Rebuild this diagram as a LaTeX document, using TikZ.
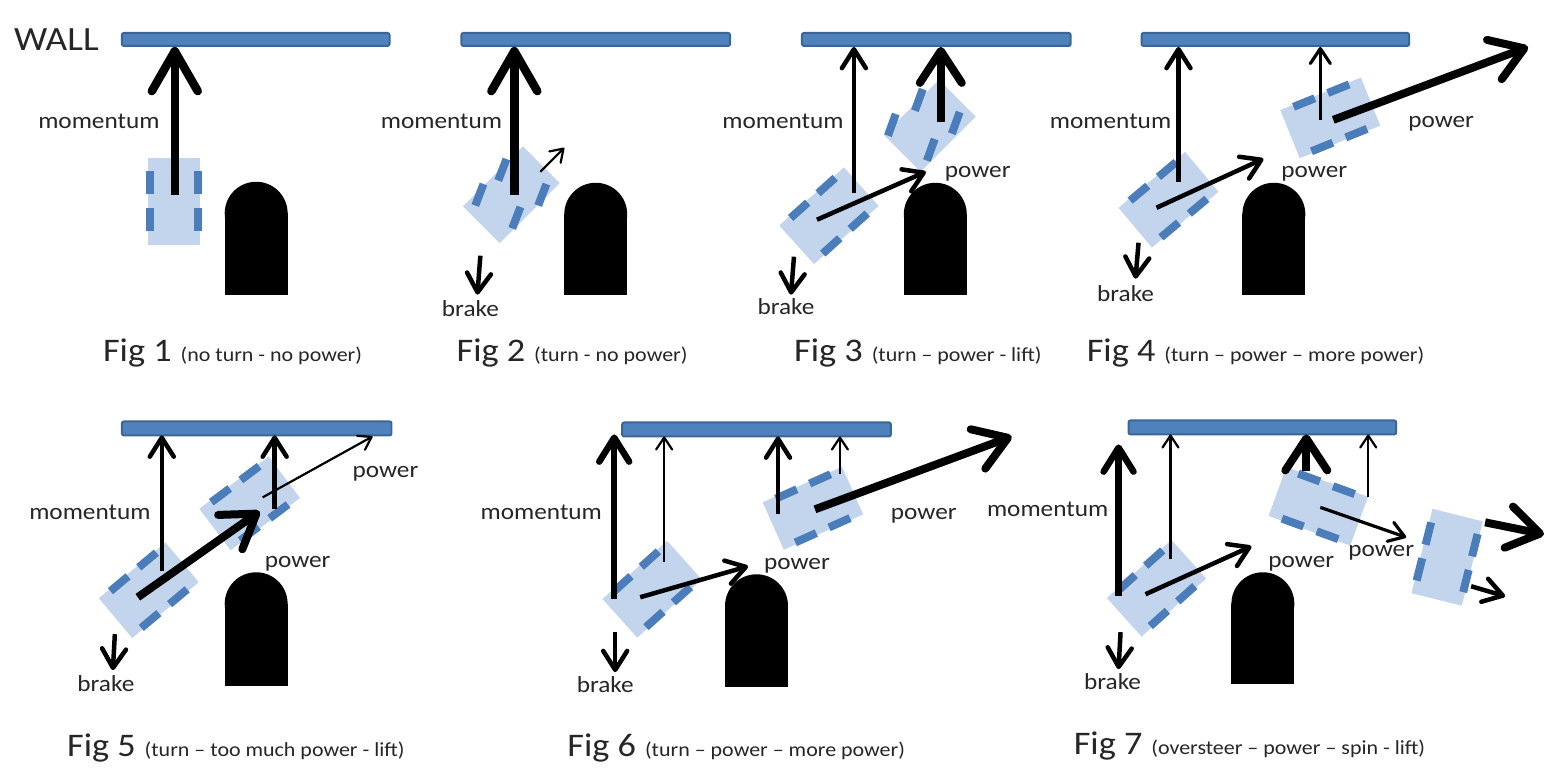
\documentclass[tikz,border=0pt]{standalone}
\usepackage{fontspec}
\setmainfont{Carlito}[FakeStretch=1.1]
\usetikzlibrary{arrows.meta}

\definecolor{wallblue}{HTML}{4F81BD}
\definecolor{walledge}{HTML}{3B6597}
\definecolor{bodyblue}{HTML}{C3D5EC}
\definecolor{wheelblue}{HTML}{4A7DBA}
\definecolor{ink}{HTML}{262626}

\tikzset{
  lbl/.style={font=\fontsize{23}{26}\selectfont, text=ink, inner sep=0pt, anchor=base},
  figcap/.style={font=\fontsize{33}{36}\selectfont, text=ink, inner sep=0pt, anchor=base west},
  walltxt/.style={font=\fontsize{34}{38}\selectfont, text=ink, inner sep=0pt, anchor=base west},
  wallbar/.style={fill=wallblue, draw=walledge, line width=2pt, rounded corners=2pt},
  heavier/.style={line width=8.5pt, -{Straight Barb[length=40pt,width=46pt,round]}},
  heavy/.style={line width=8pt, -{Straight Barb[length=32pt,width=42pt,round]}},
  bold/.style={line width=6.5pt, -{Straight Barb[length=24pt,width=30pt,round]}},
  mid/.style={line width=4.5pt, -{Straight Barb[length=19pt,width=24pt,round]}},
  light/.style={line width=3.2pt, -{Straight Barb[length=15pt,width=20pt,round]}},
  hair/.style={line width=2.2pt, -{Straight Barb[length=12pt,width=16pt,round]}},
}

% car body: centre x, centre y, angle, half length, half width
\newcommand\drawbody[5]{%
  \begin{scope}[shift={(#1,#2)},rotate=#3]
    \fill[bodyblue] (-#4,-#5) rectangle (#4,#5);
  \end{scope}}
% single wheel: centre x, centre y, angle
\newcommand\drawwheel[3]{%
  \begin{scope}[shift={(#1,#2)},rotate=#3]
    \fill[wheelblue] (-11.5,-4) rectangle (11.5,4);
  \end{scope}}
% whole car: centre x, centre y, heading angle
\newcommand\drawcar[3]{%
  \begin{scope}[shift={(#1,#2)},rotate=#3]
    \fill[bodyblue] (-43.5,-26) rectangle (43.5,26);
    \foreach \u in {-18.5,18.5}{\foreach \v in {-24,24}{
      \fill[wheelblue] (\u-11.5,\v-4) rectangle (\u+11.5,\v+4);}}
  \end{scope}}
% obstacle: left x, top y, bottom y
\newcommand\drawpost[3]{%
  \fill[black] (#1+31.5,#2+31.5) circle[radius=31.5];
  \fill[black] (#1,#2+31.5) rectangle (#1+63,#3);}

\begin{document}
\begin{tikzpicture}[x=1pt,y=-1pt]
\fill[white] (0,0) rectangle (1548,780);

% ---------- walls ----------
\draw[wallbar] (122,33) rectangle (390,46);
\draw[wallbar] (462,33) rectangle (731,46);
\draw[wallbar] (803,33) rectangle (1072,46);
\draw[wallbar] (1143,33) rectangle (1411,46);
\draw[wallbar] (122,422) rectangle (392,436);
\draw[wallbar] (623,423) rectangle (892,437);
\draw[wallbar] (1130,421) rectangle (1398,435);
\node[walltxt] (wall) at (14,51) {WALL};

% ---------- posts ----------
\drawpost{225}{182}{295}
\drawpost{565}{183}{295}
\drawpost{905}{183}{295}
\drawpost{1244}{183}{295}
\drawpost{225}{573}{687}
\drawpost{726}{575}{688}
\drawpost{1233}{573}{685}

% ---------- cars ----------
\drawcar{174}{201.5}{90}
% Fig 2
\drawbody{512}{195}{45}{42.5}{26}
\drawwheel{503}{170}{69}\drawwheel{480}{195}{69}
\drawwheel{543}{195}{69}\drawwheel{517}{218}{69}
% Fig 3
\drawcar{830}{216}{42}
\drawbody{931}{126}{45}{39}{26}
\drawwheel{920}{100}{70}\drawwheel{893}{125}{70}
\drawwheel{957}{123}{70}\drawwheel{932}{150}{70}
% Fig 4
\drawcar{1170}{200}{40}
\drawcar{1332}{118}{22}
% Fig 5
\drawcar{149}{591}{40}
\drawcar{250}{504}{37}
% Fig 6
\drawcar{653}{590}{42}
\drawcar{814}{509}{24}
% Fig 7
\drawcar{1158}{589}{42}
\drawcar{1320}{507}{-20}
\drawcar{1449}{558}{76}

% ---------- arrows ----------
% Fig 1
\coordinate (a1s) at (175,195); \coordinate (a1e) at (175,47);
\draw[heavier] (a1s) -- (a1e);
% Fig 2
\coordinate (b1s) at (515,195); \coordinate (b1e) at (515,47);
\coordinate (b2s) at (541,172); \coordinate (b2e) at (565,148);
\coordinate (b3s) at (481,256); \coordinate (b3e) at (478,295);
\draw[heavier] (b1s) -- (b1e);
\draw[hair] (b2s) -- (b2e);
\draw[mid] (b3s) -- (b3e);
% Fig 3
\coordinate (c1s) at (855,193); \coordinate (c1e) at (855,47);
\coordinate (c2s) at (942,122); \coordinate (c2e) at (942,47);
\coordinate (c3s) at (818,220); \coordinate (c3e) at (927,172);
\coordinate (c4s) at (795,257); \coordinate (c4e) at (792,295);
\draw[mid] (c1s) -- (c1e);
\draw[heavy] (c2s) -- (c2e);
\draw[mid] (c3s) -- (c3e);
\draw[mid] (c4s) -- (c4e);
% Fig 4
\coordinate (d1s) at (1180,182); \coordinate (d1e) at (1180,47);
\coordinate (d2s) at (1322,120); \coordinate (d2e) at (1322,47);
\coordinate (d3s) at (1335,120); \coordinate (d3e) at (1530,47);
\coordinate (d4s) at (1158,208); \coordinate (d4e) at (1265,159);
\coordinate (d5s) at (1140,243); \coordinate (d5e) at (1137,279);
\draw[mid] (d1s) -- (d1e);
\draw[light] (d2s) -- (d2e);
\draw[heavy] (d3s) -- (d3e);
\draw[mid] (d4s) -- (d4e);
\draw[mid] (d5s) -- (d5e);
% Fig 5
\coordinate (e1s) at (162,572); \coordinate (e1e) at (162,436);
\coordinate (e2s) at (275,510); \coordinate (e2e) at (275,436);
\coordinate (e3s) at (263,498); \coordinate (e3e) at (373,437);
\coordinate (e4s) at (138,598); \coordinate (e4e) at (260,512);
\coordinate (e5s) at (115,635); \coordinate (e5e) at (113,671);
\draw[mid] (e1s) -- (e1e);
\draw[mid] (e2s) -- (e2e);
\draw[hair] (e3s) -- (e3e);
\draw[heavy] (e4s) -- (e4e);
\draw[mid] (e5s) -- (e5e);
% Fig 6
\coordinate (g1s) at (615,600); \coordinate (g1e) at (615,435);
\coordinate (g2s) at (665,563); \coordinate (g2e) at (665,437);
\coordinate (g3s) at (779,515); \coordinate (g3e) at (779,437);
\coordinate (g4s) at (841,475); \coordinate (g4e) at (841,437);
\coordinate (g5s) at (816,510); \coordinate (g5e) at (1013,437);
\coordinate (g6s) at (641,598); \coordinate (g6e) at (749,567);
\coordinate (g7s) at (616,633); \coordinate (g7e) at (616,673);
\draw[bold] (g1s) -- (g1e);
\draw[hair] (g2s) -- (g2e);
\draw[mid] (g3s) -- (g3e);
\draw[hair] (g4s) -- (g4e);
\draw[heavy] (g5s) -- (g5e);
\draw[mid] (g6s) -- (g6e);
\draw[mid] (g7s) -- (g7e);
% Fig 7
\coordinate (h1s) at (1120,597); \coordinate (h1e) at (1120,445);
\coordinate (h2s) at (1172,560); \coordinate (h2e) at (1172,435);
\coordinate (h3s) at (1308,472); \coordinate (h3e) at (1308,435);
\coordinate (h4s) at (1370,498); \coordinate (h4e) at (1370,435);
\coordinate (h5s) at (1147,595); \coordinate (h5e) at (1253,547);
\coordinate (h6s) at (1322,508); \coordinate (h6e) at (1408,538);
\coordinate (h7s) at (1487,523); \coordinate (h7e) at (1546,535);
\coordinate (h8s) at (1473,587); \coordinate (h8e) at (1507,597);
\coordinate (h9s) at (1122,633); \coordinate (h9e) at (1120,670);
\draw[bold] (h1s) -- (h1e);
\draw[hair] (h2s) -- (h2e);
\draw[heavy] (h3s) -- (h3e);
\draw[hair] (h4s) -- (h4e);
\draw[mid] (h5s) -- (h5e);
\draw[light] (h6s) -- (h6e);
\draw[heavy] (h7s) -- (h7e);
\draw[mid] (h8s) -- (h8e);
\draw[mid] (h9s) -- (h9e);

% ---------- labels ----------
\node[lbl] (m1) at (99,129) {momentum};
\node[lbl] (m2) at (442,129) {momentum};
\node[lbl] (k2) at (471,317) {brake};
\node[lbl] (m3) at (784,129) {momentum};
\node[lbl] (p3) at (979,178) {power};
\node[lbl] (k3) at (787,315) {brake};
\node[lbl] (m4) at (1112,129) {momentum};
\node[lbl] (p4a) at (1316,178) {power};
\node[lbl] (p4b) at (1443,128) {power};
\node[lbl] (k4) at (1127,302) {brake};
\node[lbl] (m5) at (90,520) {momentum};
\node[lbl] (p5a) at (298,568) {power};
\node[lbl] (p5b) at (386,478) {power};
\node[lbl] (k5) at (106,692) {brake};
\node[lbl] (m6) at (542,520) {momentum};
\node[lbl] (p6a) at (798,570) {power};
\node[lbl] (p6b) at (925,520) {power};
\node[lbl] (k6) at (606,693) {brake};
\node[lbl] (m7) at (1049,517) {momentum};
\node[lbl] (p7a) at (1303,568) {power};
\node[lbl] (p7b) at (1383,557) {power};
\node[lbl] (k7) at (1114,690) {brake};

% ---------- captions ----------
\node[figcap] (cap1) at (103,362) {Fig 1\hspace{9pt}\fontsize{20}{24}\selectfont(no turn - no power)};
\node[figcap] (cap2) at (457,362) {Fig 2\hspace{9pt}\fontsize{20}{24}\selectfont(turn - no power)};
\node[figcap] (cap3) at (795,362) {Fig 3\hspace{9pt}\fontsize{20}{24}\selectfont(turn – power - lift)};
\node[figcap] (cap4) at (1088,362) {Fig 4\hspace{9pt}\fontsize{20}{24}\selectfont(turn – power – more power)};
\node[figcap] (cap5) at (67,757) {Fig 5\hspace{9pt}\fontsize{20}{24}\selectfont(turn – too much power - lift)};
\node[figcap] (cap6) at (568,757) {Fig 6\hspace{9pt}\fontsize{20}{24}\selectfont(turn – power – more power)};
\node[figcap] (cap7) at (1075,755) {Fig 7\hspace{9pt}\fontsize{20}{24}\selectfont(oversteer – power – spin - lift)};
\end{tikzpicture}
\end{document}
